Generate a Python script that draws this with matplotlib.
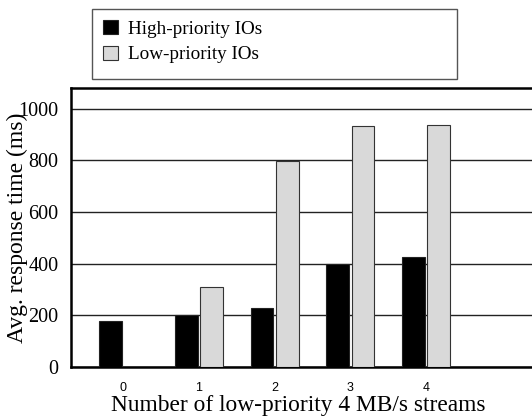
import matplotlib
matplotlib.use("Agg")
import matplotlib.pyplot as plt
from matplotlib.patches import Rectangle
import numpy as np

streams = [0, 1, 2, 3, 4]
high_prio = [177, 203, 227, 400, 426]
low_prio = [0, 311, 797, 933, 937]

serif = "Liberation Serif"
sans = "Liberation Sans"

fig = plt.figure(figsize=(5.32, 4.2), dpi=100)
# axes runs off the right edge of the figure on purpose
ax = fig.add_axes([71 / 532, 53 / 420, 476 / 532, 279 / 420])

x = np.arange(len(streams))
w = 0.30
ax.bar(x - 0.167, high_prio, w, color="black", edgecolor="#222222", linewidth=0.8,
       label="High-priority IOs", zorder=3)
ax.bar(x + 0.167, low_prio, w, color="#d9d9d9", edgecolor="#333333", linewidth=0.8,
       label="Low-priority IOs", zorder=3)

ax.set_xlim(-0.69, 5.6)
ax.set_ylim(0, 1080)
ax.set_yticks([0, 200, 400, 600, 800, 1000])
ax.set_xticks(x)
ax.set_xticklabels([str(s) for s in streams])
ax.tick_params(axis="both", length=0)
ax.tick_params(axis="y", pad=9, labelsize=14.5, labelfontfamily=serif)
ax.tick_params(axis="x", pad=11, labelsize=9, labelfontfamily=sans)

ax.yaxis.grid(True, color="#222222", linewidth=1.0, zorder=0)
ax.set_axisbelow(True)
for side in ["left", "bottom", "top"]:
    ax.spines[side].set_linewidth(1.8)
ax.spines["right"].set_visible(False)

ax.set_ylabel("Avg. response time (ms)", fontfamily=serif, fontsize=17)
ax.yaxis.set_label_coords(-0.090, 0.5)
ax.set_xlabel("Number of low-priority 4 MB/s streams", fontfamily=serif, fontsize=16.8)
ax.xaxis.set_label_coords(0.478, -0.100)

# legend box above the plot
fig.patches.append(Rectangle((92 / 532, 1 - 79 / 420), 365 / 532, 70 / 420,
                             transform=fig.transFigure, fill=False,
                             edgecolor="#555555", linewidth=1.0))
fig.legend(loc="upper left", bbox_to_anchor=(103 / 532, 1 - 20 / 420), frameon=False,
           prop={"family": serif, "size": 13.8}, handlelength=0.78, handleheight=0.78,
           handletextpad=0.5, labelspacing=0.4, borderpad=0, borderaxespad=0)

fig.savefig("out.png", dpi=100)
